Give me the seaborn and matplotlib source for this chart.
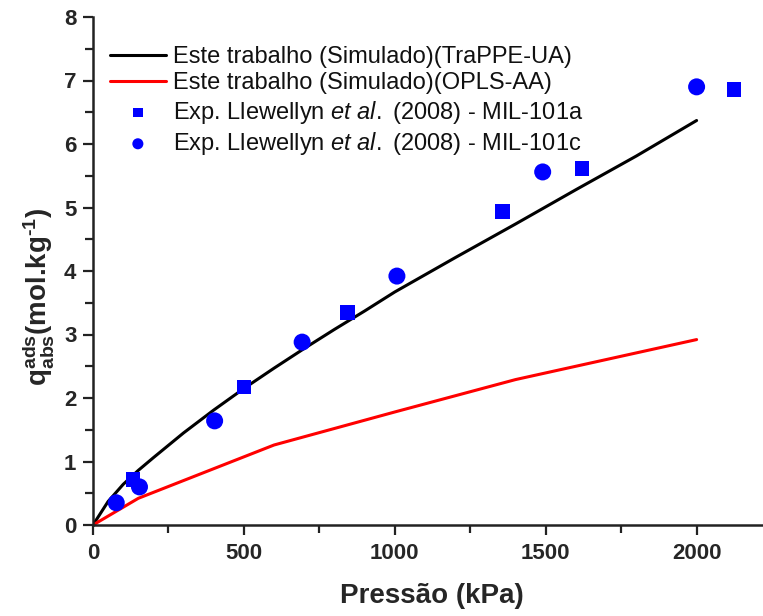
import numpy as np
import pandas as pd
import matplotlib
matplotlib.use("Agg")
import matplotlib.pyplot as plt
import seaborn as sns
from matplotlib.ticker import MultipleLocator

# Simulated isotherms
p_trappe = [0, 50, 100, 150, 200, 300, 400, 500, 600, 700, 800, 900, 1000, 1200, 1400, 1600, 1800, 2000]
q_trappe = [0, 0.37, 0.64, 0.86, 1.06, 1.45, 1.81, 2.15, 2.47, 2.78, 3.08, 3.37, 3.67, 4.21, 4.74, 5.28, 5.81, 6.37]

p_opls = [0, 150, 600, 1000, 1400, 2000]
q_opls = [0, 0.42, 1.26, 1.78, 2.29, 2.92]

# Experimental data
p_mil101a = [132, 501, 844, 1356, 1620, 2124]
q_mil101a = [0.72, 2.17, 3.35, 4.94, 5.61, 6.86]

p_mil101c = [77, 154, 403, 693, 1007, 1490, 2000]
q_mil101c = [0.35, 0.60, 1.64, 2.88, 3.92, 5.56, 6.90]

labels = [
    "Este trabalho (Simulado)(TraPPE-UA)",
    "Este trabalho (Simulado)(OPLS-AA)",
    r"Exp. Llewellyn $\mathit{et\ al.}$ (2008) - MIL-101a",
    r"Exp. Llewellyn $\mathit{et\ al.}$ (2008) - MIL-101c",
]

sns.set_style("ticks")
plt.rcParams["font.family"] = ["Liberation Sans", "DejaVu Sans"]
plt.rcParams["mathtext.fontset"] = "custom"
plt.rcParams["mathtext.rm"] = "Liberation Sans"
plt.rcParams["mathtext.it"] = "Liberation Sans:italic"
plt.rcParams["mathtext.bf"] = "Liberation Sans:bold"
plt.rcParams["mathtext.sf"] = "Liberation Sans"

fig = plt.figure(figsize=(7.63, 6.16), dpi=100)
ax = fig.add_axes([93 / 763, 91 / 616, 670 / 763, 508 / 616])

df_t = pd.DataFrame({"p": p_trappe, "q": q_trappe})
df_o = pd.DataFrame({"p": p_opls, "q": q_opls})
df_a = pd.DataFrame({"p": p_mil101a, "q": q_mil101a})
df_c = pd.DataFrame({"p": p_mil101c, "q": q_mil101c})

sns.lineplot(data=df_t, x="p", y="q", ax=ax, color="black", lw=2.2, label=labels[0], sort=False)
sns.lineplot(data=df_o, x="p", y="q", ax=ax, color="#ff0000", lw=2.2, label=labels[1], sort=False)
sns.scatterplot(data=df_a, x="p", y="q", ax=ax, color="#0000ff", marker="s", s=110,
                edgecolor="none", label=labels[2], zorder=3, clip_on=False)
sns.scatterplot(data=df_c, x="p", y="q", ax=ax, color="#0000ff", marker="o", s=150,
                edgecolor="none", label=labels[3], zorder=3, clip_on=False)

ax.set_xlim(0, 2220)
ax.set_ylim(0, 8)
ax.xaxis.set_major_locator(MultipleLocator(500))
ax.xaxis.set_minor_locator(MultipleLocator(250))
ax.yaxis.set_major_locator(MultipleLocator(1))
ax.yaxis.set_minor_locator(MultipleLocator(0.5))

for s in ["top", "right"]:
    ax.spines[s].set_visible(False)
for s in ["left", "bottom"]:
    ax.spines[s].set_linewidth(1.8)
    ax.spines[s].set_color("#222222")

ax.tick_params(which="major", direction="out", length=7, width=1.6, color="#222222", pad=5)
ax.tick_params(which="minor", direction="out", length=6, width=1.6, color="#222222")
for lab in ax.get_xticklabels() + ax.get_yticklabels():
    lab.set_family(["Liberation Sans Narrow", "Liberation Sans", "DejaVu Sans"])
    lab.set_fontweight("bold")
    lab.set_fontsize(16)
ax.tick_params(axis="x", pad=6)

ax.set_xlabel("Pressão (kPa)", fontsize=20, fontweight="bold",
              family=["Liberation Sans Narrow", "Liberation Sans", "DejaVu Sans"])
ax.xaxis.set_label_coords(0.506, -0.115)
ax.set_ylabel("$\\mathbf{q}^{\\mathbf{ads}}_{\\mathbf{abs}}$(mol.kg$^{\\mathbf{\u20101}}$)",
              fontsize=20, fontweight="bold")
ax.yaxis.set_label_coords(-0.055, 0.45)

leg = ax.legend(loc="upper left", bbox_to_anchor=(0.0, 0.975), frameon=False, fontsize=17,
                handlelength=2.4, handletextpad=0.3, labelspacing=0.18, markerscale=0.65,
                borderaxespad=0.3)
for txt in leg.get_texts():
    txt.set_color("#111111")

fig.savefig("out.png", dpi=100)
